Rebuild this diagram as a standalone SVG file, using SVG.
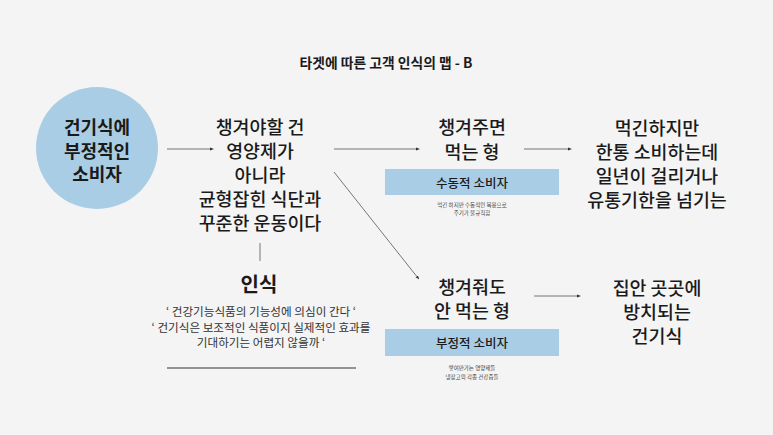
<svg xmlns="http://www.w3.org/2000/svg" width="773" height="435" viewBox="0 0 773 435">
<defs>
<style>
text{font-family:"Noto Sans CJK KR","Noto Sans",sans-serif;fill:#1a1a1a;text-anchor:middle;dominant-baseline:central}
.t{font-size:13.8px;font-weight:700}
.big{font-size:18.4px;font-weight:500}
.circ{font-size:18px;font-weight:700}
.lbl{font-size:12.5px;font-weight:500}
.q{font-size:11.6px;font-weight:400;fill:#333}
.tiny{font-size:5.5px;font-weight:400;fill:#444}
.conn{stroke:#555;stroke-width:0.8;fill:none;marker-end:url(#dot)}
.band{fill:#a9cde4}
</style>
<marker id="dot" viewBox="0 0 4 4" refX="2" refY="2" markerWidth="4" markerHeight="4" markerUnits="userSpaceOnUse" orient="auto">
<path d="M0,0.5 L4,2 L0,3.5 z" fill="#333"/>
</marker>
</defs>
<rect width="773" height="435" fill="#f4f4f4"/>
<text class="t" x="386" y="62">타겟에 따른 고객 인식의 맵 - B</text>

<g id="node-consumer">
<circle cx="97" cy="148" r="61" fill="#a9cde4"/>
<text class="circ" x="97" y="126">건기식에</text>
<text class="circ" x="97" y="149.5">부정적인</text>
<text class="circ" x="97" y="173">소비자</text>
</g>

<g id="node-belief">
<text class="big" x="260" y="126">챙겨야할 건</text>
<text class="big" x="260" y="150">영양제가</text>
<text class="big" x="260" y="174">아니라</text>
<text class="big" x="260" y="198">균형잡힌 식단과</text>
<text class="big" x="260" y="222">꾸준한 운동이다</text>
</g>

<g id="node-perception">
<text x="259" y="283" style="font-size:20px;font-weight:700">인식</text>
<text class="q" x="261" y="311">‘ 건강기능식품의 기능성에 의심이 간다 ‘</text>
<text class="q" x="261" y="326.5">‘ 건기식은 보조적인 식품이지 실제적인 효과를</text>
<text class="q" x="261" y="342">기대하기는 어렵지 않을까 ‘</text>
<line x1="167" y1="368" x2="356" y2="368" stroke="#333" stroke-width="1"/>
</g>

<g id="node-eat">
<text class="big" x="472" y="126">챙겨주면</text>
<text class="big" x="472" y="151">먹는 형</text>
<rect class="band" x="385" y="169" width="174" height="26"/>
<text class="lbl" x="472" y="182">수동적 소비자</text>
<text class="tiny" x="472" y="205">먹긴 하지만 수동적인 복용으로</text>
<text class="tiny" x="472" y="213">주기가 불규칙함</text>
</g>

<g id="node-noeat">
<text class="big" x="472" y="286">챙겨줘도</text>
<text class="big" x="472" y="310">안 먹는 형</text>
<rect class="band" x="385" y="329" width="174" height="27"/>
<text class="lbl" x="472" y="342">부정적 소비자</text>
<text class="tiny" x="472" y="368">쌓여만가는 영양제들</text>
<text class="tiny" x="472" y="377">냉장고의 각종 건강즙들</text>
</g>

<g id="node-result1">
<text class="big" x="657" y="127">먹긴하지만</text>
<text class="big" x="657" y="151">한통 소비하는데</text>
<text class="big" x="657" y="175">일년이 걸리거나</text>
<text class="big" x="657" y="199">유통기한을 넘기는</text>
</g>

<g id="node-result2">
<text class="big" x="657" y="287">집안 곳곳에</text>
<text class="big" x="657" y="311">방치되는</text>
<text class="big" x="657" y="335">건기식</text>
</g>

<g id="connectors">
<line class="conn" x1="167" y1="149" x2="212" y2="149"/>
<line x1="260" y1="243" x2="260" y2="261" stroke="#555" stroke-width="0.8"/>
<line class="conn" x1="334" y1="149" x2="418" y2="149"/>
<line class="conn" x1="334" y1="172" x2="418" y2="278"/>
<line class="conn" x1="524" y1="149" x2="570" y2="149"/>
<line class="conn" x1="534" y1="296" x2="579" y2="296"/>
</g>
</svg>
